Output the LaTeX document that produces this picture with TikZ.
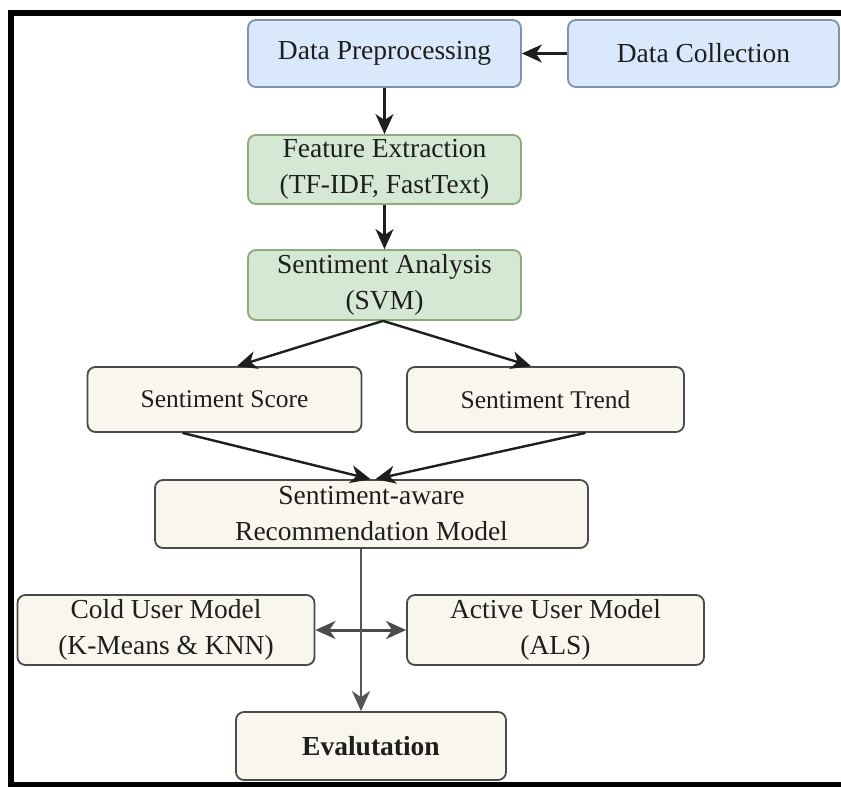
\documentclass[tikz,border=0pt]{standalone}
\usepackage{fontspec}
\setmainfont{Liberation Serif}
\usetikzlibrary{arrows.meta,calc}

\definecolor{blueFill}{HTML}{DAE8FC}
\definecolor{blueLine}{HTML}{7F93AD}
\definecolor{greenFill}{HTML}{D5E8D4}
\definecolor{greenLine}{HTML}{8DAA7A}
\definecolor{creamFill}{HTML}{F9F7ED}
\definecolor{creamLine}{HTML}{4A4A4A}
\definecolor{ink}{HTML}{1E1E1E}

\begin{document}
\begin{tikzpicture}[
  x=1pt, y=-1pt,
  box/.style={rounded corners=8pt, line width=1.8pt, align=center,
    inner sep=0pt, text=ink, font=\fontsize{27.5}{36}\selectfont},
  bluebox/.style={box, fill=blueFill, draw=blueLine},
  greenbox/.style={box, fill=greenFill, draw=greenLine},
  creambox/.style={box, fill=creamFill, draw=creamLine},
  tip/.tip={Stealth[length=20pt,width=18pt,inset=6pt]},
  flow/.style={line width=2.4pt, draw=ink, -tip},
  twoway/.style={line width=3pt, draw=ink!80, tip-tip}
]
\useasboundingbox (0,0) rectangle (841,787);

% outer frame (open on the right)
\draw[line width=6pt, black] (841,13) -- (11,13) -- (11,785) -- (841,785);

% input stage
\node[bluebox, minimum width=273pt, minimum height=67pt] (dp) at (384.5,53.5) {Data Preprocessing};
\node[bluebox, minimum width=271pt, minimum height=67pt] (dc) at (703.5,53.5) {Data Collection};

% text processing
\node[greenbox, minimum width=273pt, minimum height=69pt] (fe) at (384.5,169.5) {Feature Extraction\\(TF-IDF, FastText)};
\node[greenbox, minimum width=273pt, minimum height=70pt] (sa) at (384.5,285) {Sentiment Analysis\\(SVM)};

% sentiment outputs
\node[creambox, minimum width=274pt, minimum height=65pt, font=\fontsize{25.5}{32}\selectfont] (score) at (224.5,399.5) {Sentiment Score};
\node[creambox, minimum width=277pt, minimum height=65pt, font=\fontsize{25.5}{32}\selectfont] (trend) at (545.5,399.5) {Sentiment Trend};

% recommendation
\node[creambox, minimum width=433pt, minimum height=68pt] (srm) at (371.5,514) {Sentiment-aware\\Recommendation Model};
\node[creambox, minimum width=297pt, minimum height=70pt] (cold) at (166,630) {Cold User Model\\(K-Means \& KNN)};
\node[creambox, minimum width=297pt, minimum height=70pt] (active) at (555.5,630) {Active User Model\\(ALS)};
\node[creambox, minimum width=270pt, minimum height=68pt, font=\fontsize{27.5}{36}\selectfont\bfseries] (eval) at (371,746) {Evalutation};

% connectors
\coordinate (spine) at (361,0);
\draw[flow] (dc.west) -- (dp.east);
\draw[flow] (dp.south) -- (fe.north);
\draw[flow] (fe.south) -- (sa.north);
\draw[flow] ($(sa.south)+(-1.5,0)$) -- ($(score.north)+(12.5,0)$);
\draw[flow] ($(sa.south)+(-1.5,0)$) -- ($(trend.north)+(-14.5,0)$);
\draw[flow] ($(score.south)+(-42,0)$) -- ($(srm.north)+(-1,0)$);
\draw[flow] ($(trend.south)+(40,0)$) -- ($(srm.north)+(4,0)$);
\draw[twoway] (cold.east) -- (active.west);
\draw[flow, draw=ink!75, fill=ink] (srm.south -| spine) -- (eval.north -| spine);
\end{tikzpicture}
\end{document}
